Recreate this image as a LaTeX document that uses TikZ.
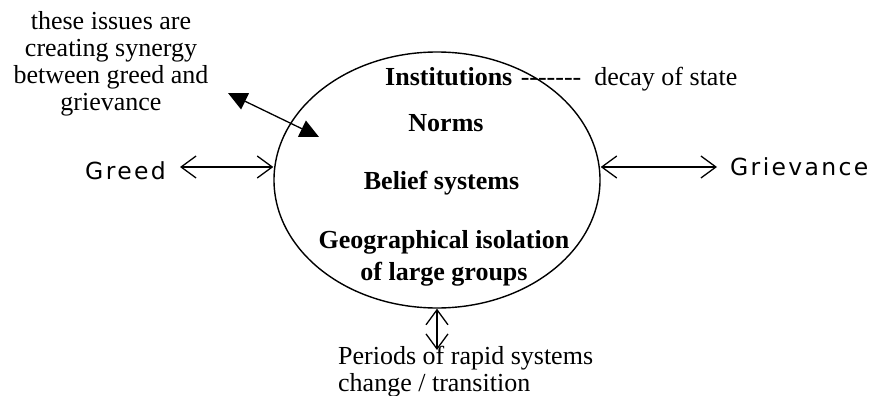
\documentclass[tikz,border=0pt]{standalone}
\usepackage{fontspec}
\setmainfont{Liberation Serif}
\newfontfamily\grfont[LetterSpace=10]{DejaVu Sans}
\usetikzlibrary{shapes.geometric, positioning, arrows.meta}

\tikzset{
  txt/.style={inner sep=0pt, font=\fontsize{26}{27}\selectfont},
  hd/.style={inner sep=0pt, font=\bfseries\fontsize{26}{32.5}\selectfont},
  side/.style={inner sep=0pt, font=\grfont\fontsize{23.5}{26}\selectfont},
  barb/.style={line width=1.3pt, {Straight Barb[length=15pt,width=22pt]}-{Straight Barb[length=15pt,width=22pt]}},
  tri/.style={line width=1.3pt, {Triangle[length=19pt,width=18pt]}-{Triangle[length=19pt,width=18pt]}},
}

\begin{document}
\begin{tikzpicture}[x=1pt, y=-1pt]
    \useasboundingbox (0,0) rectangle (876,396);

    % central ellipse
    \node[draw, ellipse, line width=1.4pt, minimum width=326pt, minimum height=256pt, inner sep=0pt] (ell) at (437,180) {};

    % contents of the ellipse
    \node[hd, anchor=base west] (inst) at (385,85) {Institutions};
    \node[txt, base right=8pt of inst] (decay) {-{}-{}-{}-{}-{}-{}-\ \ decay of state};
    \node[hd, anchor=base] (norms) at (446,131) {Norms};
    \node[hd, anchor=base] (belief) at (441.5,189) {Belief systems};
    \node[hd, anchor=north, align=center] (geo) at (444,230) {Geographical isolation\\of large groups};

    % greed and grievance
    \coordinate (gl) at (180,167);
    \coordinate (vr) at (717,167);
    \node[side, left=14pt of gl, yshift=-4pt] (greed) {Greed};
    \node[side, right=13pt of vr] (griev) {Grievance};
    \draw[barb] (gl) -- (ell.west |- gl);
    \draw[barb] (ell.east |- vr) -- (vr);

    % synergy note
    \node[txt, anchor=north, align=center] (syn) at (111,11) {these issues are\\creating synergy\\between greed and\\grievance};
    \coordinate (syn-a) at (228,93);
    \coordinate (syn-b) at (319,137);
    \draw[tri] (syn-a) -- (syn-b);

    % periods of change
    \coordinate (chg) at (437,350);
    \draw[barb] (ell.south) -- (chg);
    \node[txt, anchor=north west, align=left] (per) at (338,346) {Periods of rapid systems\\change / transition};
\end{tikzpicture}
\end{document}
